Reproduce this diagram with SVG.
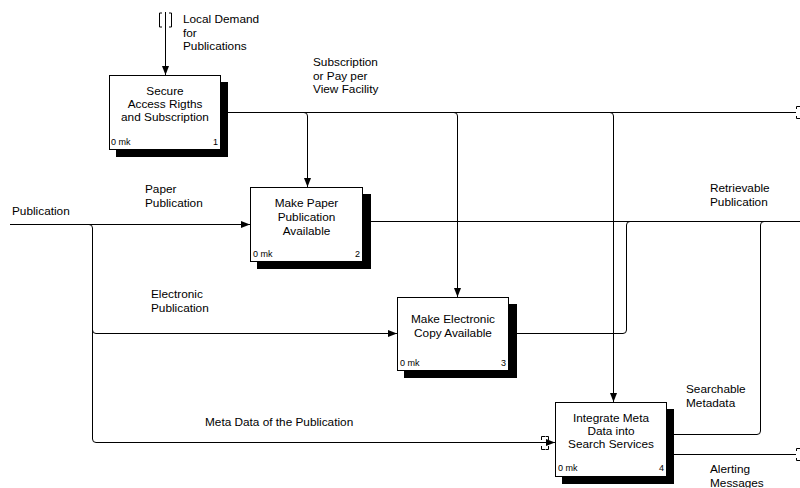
<svg xmlns="http://www.w3.org/2000/svg" width="800" height="488" viewBox="0 0 800 488">
  <defs>
    <marker id="arrow" markerWidth="9" markerHeight="7" refX="9" refY="3.5" orient="auto" markerUnits="userSpaceOnUse">
      <path d="M0,0 L9,3.5 L0,7 Z" fill="#000"/>
    </marker>
    <style>
      text { font-family: "Liberation Sans", Arial, sans-serif; fill: #000; }
      .lbl { font-size: 11.8px; }
      .title { font-size: 11.8px; text-anchor: middle; }
      .small { font-size: 9px; }
      .num { font-size: 9px; text-anchor: end; }
      .box { fill: #fff; stroke: #000; stroke-width: 1; }
      .shadow { fill: #000; }
      .wire { fill: none; stroke: #000; stroke-width: 1; }
      .tunnel { fill: none; stroke: #000; stroke-width: 1; }
    </style>
  </defs>

  <rect width="800" height="488" fill="#fff"/>

  <!-- connectors -->
  <g id="connectors">
    <!-- Local Demand for Publications -->
    <path class="wire" d="M165.5,12 V75" marker-end="url(#arrow)"/>
    <path class="tunnel" d="M162,13 H159.5 V27 H162 M169,13 H171.5 V27 H169"/>

    <!-- Subscription or Pay per View Facility -->
    <path class="wire" d="M220,112.5 H796"/>
    <path class="wire" d="M304,112.5 Q307.5,112.5 307.5,116 V187" marker-end="url(#arrow)"/>
    <path class="wire" d="M454,112.5 Q457.5,112.5 457.5,116 V297" marker-end="url(#arrow)"/>
    <path class="wire" d="M610,112.5 Q613.5,112.5 613.5,116 V402" marker-end="url(#arrow)"/>
    <path class="tunnel" d="M800,106.5 H796.5 V109 M796.5,116 V118.5 H800"/>

    <!-- Publication and its branches -->
    <path class="wire" d="M10,224.5 H250" marker-end="url(#arrow)"/>
    <path class="wire" d="M89,224.5 Q92.5,224.5 92.5,228 V439 Q92.5,442.5 96,442.5 H555" marker-end="url(#arrow)"/>
    <path class="wire" d="M92.5,330 Q92.5,333.5 96,333.5 H397" marker-end="url(#arrow)"/>
    <path class="tunnel" d="M545,436.5 H541.5 V440 M541.5,446 V449.5 H545 M545.5,436.5 H548.5 V440 M548.5,446 V449.5 H545.5"/>

    <!-- Retrievable Publication -->
    <path class="wire" d="M363,221.5 H800"/>
    <path class="wire" d="M509,333.5 H623 Q626.5,333.5 626.5,330 V225 Q626.5,221.5 630,221.5"/>
    <path class="wire" d="M667,434.5 H757 Q760.5,434.5 760.5,431 V225 Q760.5,221.5 764,221.5"/>

    <!-- Alerting Messages -->
    <path class="wire" d="M667,454.5 H796"/>
    <path class="tunnel" d="M800,448.5 H796.5 V451 M796.5,458 V460.5 H800"/>
  </g>

  <!-- node 1 -->
  <g id="node1">
    <rect class="shadow" x="116" y="82" width="112" height="75"/>
    <rect class="box" x="109.5" y="75.5" width="111" height="74"/>
    <text class="title" x="165" y="95">Secure</text>
    <text class="title" x="165" y="108">Access Rigths</text>
    <text class="title" x="165" y="121">and Subscription</text>
    <text class="small" x="111" y="145">0 mk</text>
    <text class="num" x="218" y="145">1</text>
  </g>

  <!-- node 2 -->
  <g id="node2">
    <rect class="shadow" x="257" y="194" width="114" height="75"/>
    <rect class="box" x="250.5" y="187.5" width="112" height="74"/>
    <text class="title" x="306.5" y="207">Make Paper</text>
    <text class="title" x="306.5" y="221">Publication</text>
    <text class="title" x="306.5" y="235">Available</text>
    <text class="small" x="253" y="257">0 mk</text>
    <text class="num" x="360" y="257">2</text>
  </g>

  <!-- node 3 -->
  <g id="node3">
    <rect class="shadow" x="404" y="304" width="113" height="74"/>
    <rect class="box" x="397.5" y="297.5" width="111" height="73"/>
    <text class="title" x="453" y="323">Make Electronic</text>
    <text class="title" x="453" y="337">Copy Available</text>
    <text class="small" x="400" y="366">0 mk</text>
    <text class="num" x="506" y="366">3</text>
  </g>

  <!-- node 4 -->
  <g id="node4">
    <rect class="shadow" x="562" y="409" width="112" height="75"/>
    <rect class="box" x="555.5" y="402.5" width="111" height="74"/>
    <text class="title" x="611" y="422">Integrate Meta</text>
    <text class="title" x="611" y="435">Data into</text>
    <text class="title" x="611" y="448">Search Services</text>
    <text class="small" x="558" y="471">0 mk</text>
    <text class="num" x="664" y="471">4</text>
  </g>

  <!-- connector labels -->
  <g id="labels">
    <text class="lbl" x="183" y="23">Local Demand</text>
    <text class="lbl" x="183" y="36.5">for</text>
    <text class="lbl" x="183" y="50">Publications</text>

    <text class="lbl" x="313" y="66">Subscription</text>
    <text class="lbl" x="313" y="79.5">or Pay per</text>
    <text class="lbl" x="313" y="93">View Facility</text>

    <text class="lbl" x="12" y="215">Publication</text>

    <text class="lbl" x="145" y="193">Paper</text>
    <text class="lbl" x="145" y="207">Publication</text>

    <text class="lbl" x="151" y="298">Electronic</text>
    <text class="lbl" x="151" y="312">Publication</text>

    <text class="lbl" x="710" y="192">Retrievable</text>
    <text class="lbl" x="710" y="206">Publication</text>

    <text class="lbl" x="205" y="426">Meta Data of the Publication</text>

    <text class="lbl" x="686" y="393">Searchable</text>
    <text class="lbl" x="686" y="407">Metadata</text>

    <text class="lbl" x="710" y="473">Alerting</text>
    <text class="lbl" x="710" y="487">Messages</text>
  </g>
</svg>
